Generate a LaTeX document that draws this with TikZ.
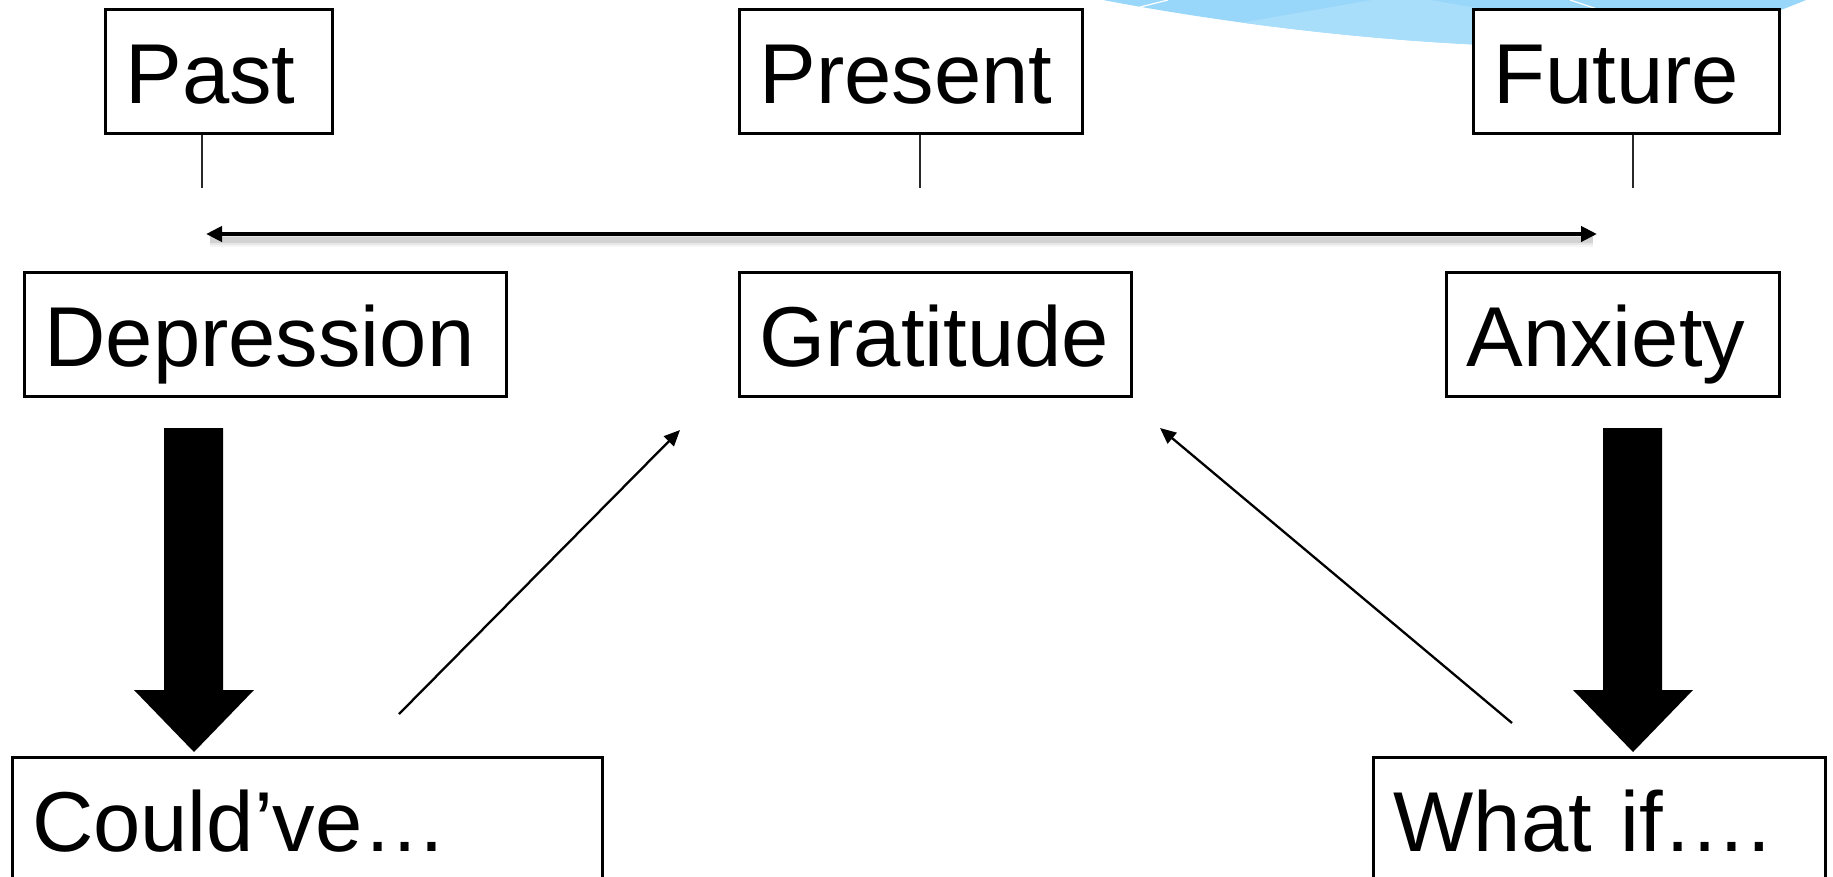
\documentclass[tikz,border=0pt]{standalone}
\usepackage{fontspec}
\setmainfont{Liberation Sans}
\usetikzlibrary{arrows.meta}
\definecolor{waveblue}{RGB}{152,214,250}
\definecolor{wavelight}{RGB}{168,222,250}
\definecolor{tickgray}{RGB}{40,40,40}
\begin{document}
\begin{tikzpicture}[x=1pt,y=-1pt,
  box/.style={draw=black, line width=3pt, fill=white, anchor=north west,
    minimum height=124pt, inner xsep=20pt, inner ysep=0pt, align=left,
    text width=#1, text height=79pt, text depth=15pt,
    font=\fontsize{85}{100}\selectfont},
  tick/.style={draw=tickgray, line width=1.5pt},
  timeline/.style={line width=4pt, {Triangle[length=16pt,width=15pt]}-{Triangle[length=16pt,width=15pt]}},
  backarrow/.style={line width=2.3pt, -{Triangle[length=16pt,width=14pt]}},
  blockdown/.pic={\fill[black] (-30,-324) -- (29,-324) -- (29,-62) -- (60,-62)
      -- (0,0) -- (-60,-62) -- (-30,-62) -- cycle;}
]
\useasboundingbox (0,0) rectangle (1833,876);
\clip (0,0) rectangle (1833,876);

% wave ornament in the upper right corner
\begin{scope}
  \path[clip] (1103,0) .. controls (1250,28) and (1420,46) .. (1560,47)
    .. controls (1680,47) and (1745,25) .. (1806,0) -- cycle;
  \fill[waveblue] (1100,-2) rectangle (1810,60);
  \fill[wavelight] (1240,23) -- (1372,0) -- (1430,0) -- (1500,12) -- (1620,60) -- (1200,60) -- cycle;
  \draw[white, line width=1.2pt] (1140,7) -- (1168,0);
  \draw[white, line width=1.2pt] (1570,0) -- (1600,10);
\end{scope}

% time labels
\node[box=187pt] (past)    at (104,8)   {\mbox{Past}};
\node[box=303pt] (present) at (738,8)   {\mbox{Present}};
\node[box=266pt] (future)  at (1472,8)  {\mbox{Future}};

% states
\node[box=442pt] (depression) at (23,271)   {\mbox{Depression}};
\node[box=352pt] (gratitude)  at (738,271)  {\mbox{Gratitude}};
\node[box=293pt] (anxiety)    at (1445,271) {\mbox{Anxiety}};

% thoughts
\node[box=550pt] (couldve) at (10.5,756) {\mbox{Could’ve…}};
\node[box=412pt] (whatif)  at (1372,756) {\mbox{What if….}};

% ticks under the time labels
\coordinate (tpast) at (202,188);
\coordinate (tpresent) at (920,188);
\coordinate (tfuture) at (1633,188);
\draw[tick] (past.south -| tpast) -- (tpast);
\draw[tick] (present.south -| tpresent) -- (tpresent);
\draw[tick] (future.south -| tfuture) -- (tfuture);

% time line with its soft shadow
\coordinate (lineL) at (206,234);
\coordinate (lineR) at (1597,234);
\foreach \w/\o in {14/0.04, 10/0.06, 6/0.09}
  \draw[line width=\w pt, black, opacity=\o] ([shift={(4,6)}]lineL) -- ([shift={(-4,6)}]lineR);
\draw[timeline] (lineL) -- (lineR);

% heavy arrows down to the thoughts
\pic (downleft)  at (194,752)  {blockdown};
\pic (downright) at (1633,752) {blockdown};

% thin arrows back up to gratitude
\coordinate (fromC) at (399,714);
\coordinate (toG1) at (680,430);
\coordinate (fromW) at (1512,723);
\coordinate (toG2) at (1160,428);
\draw[backarrow] (fromC) -- (toG1);
\draw[backarrow] (fromW) -- (toG2);
\end{tikzpicture}
\end{document}
